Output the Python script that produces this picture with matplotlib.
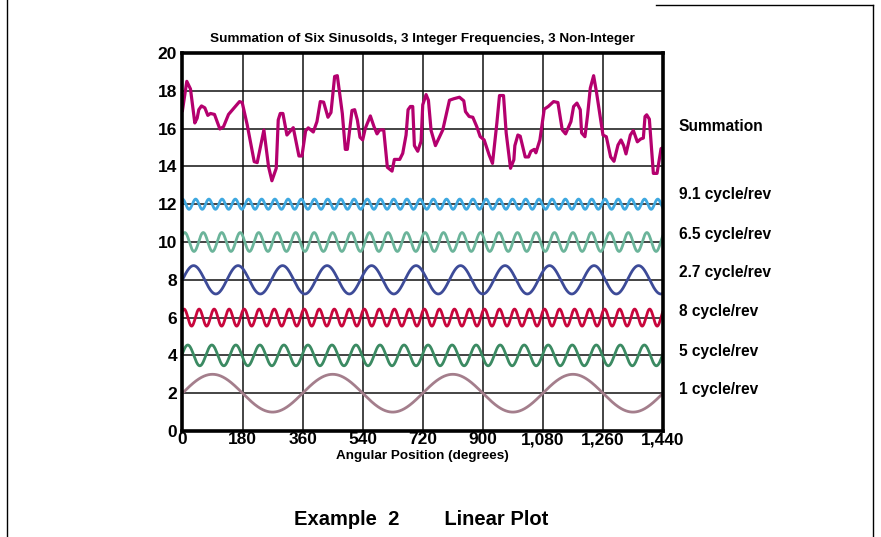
import numpy as np
import matplotlib
matplotlib.use("Agg")
import matplotlib.pyplot as plt

plt.rcParams['font.family'] = ['Liberation Sans', 'DejaVu Sans']
plt.rcParams['font.weight'] = 'bold'

# component sinusoids
labels = ['1 cycle/rev', '5 cycle/rev', '8 cycle/rev',
          '2.7 cycle/rev', '6.5 cycle/rev', '9.1 cycle/rev']
freqs = [1, 5, 8, 2.7, 6.5, 9.1]          # cycles per revolution
amps = [1.0, 0.55, 0.45, 0.75, 0.5, 0.27]
phases = [0, 10, 50, 0, 45, 90]           # degrees
offsets = [2, 4, 6, 8, 10, 12]
colors = ['#a47e8c', '#3b8a62', '#c8063c', '#3d4b98', '#6bb49a', '#3ea8e0']
label_y = [2.2, 4.2, 6.3, 8.4, 10.4, 12.5]

# summation trace
sum_deg = [0, 13, 24, 37, 44, 49, 57, 67, 76, 84, 96, 112, 123, 138, 154, 171, 179,
           194, 215, 224, 244, 258, 268, 281, 287, 293, 301, 313, 332, 349, 358,
           369, 377, 392, 403, 413, 423, 436, 445, 456, 464, 479, 488, 494, 508,
           516, 524, 532, 540, 548, 563, 574, 583, 591, 603, 614, 628, 635, 651,
           660, 670, 676, 683, 690, 695, 705, 715, 720, 730, 737, 745, 758, 780,
           800, 813, 830, 843, 848, 859, 870, 882, 892, 904, 919, 929, 942, 950,
           962, 970, 983, 993, 996, 1005, 1012, 1027, 1037, 1044, 1054, 1059,
           1071, 1084, 1096, 1112, 1125, 1138, 1148, 1164, 1172, 1182, 1192,
           1196, 1206, 1214, 1222, 1232, 1241, 1260, 1270, 1283, 1293, 1305,
           1314, 1322, 1329, 1342, 1351, 1363, 1373, 1381, 1386, 1391, 1399,
           1411, 1422, 1434, 1440]
sum_val = [16.96, 18.5, 18.1, 16.3, 16.55, 17.0, 17.2, 17.1, 16.7, 16.8, 16.75,
           15.98, 16.1, 16.75, 17.08, 17.43, 17.38, 16.2, 14.25, 14.2, 15.93,
           13.98, 13.24, 13.9, 16.46, 16.8, 16.8, 15.66, 16.05, 14.55, 14.55,
           15.88, 16.04, 15.82, 16.37, 17.43, 17.4, 16.6, 16.85, 18.76, 18.8,
           16.8, 14.9, 14.9, 16.96, 17.0, 16.46, 15.54, 15.4, 16.02, 16.67,
           16.1, 15.72, 15.93, 15.93, 13.95, 13.75, 14.37, 14.37, 14.69, 15.66,
           17.0, 17.17, 17.17, 15.1, 14.8, 15.33, 17.26, 17.8, 17.5, 15.9, 15.1,
           15.93, 17.5, 17.58, 17.66, 17.47, 16.9, 16.64, 16.6, 16.1, 15.58,
           15.4, 14.6, 14.16, 16.28, 17.75, 17.75, 15.77, 13.9, 14.35, 15.1,
           15.66, 15.6, 14.5, 14.5, 14.8, 14.9, 14.72, 15.4, 17.03, 17.17,
           17.43, 17.38, 15.93, 15.72, 16.37, 17.17, 17.35, 17.0, 15.77, 15.57,
           16.73, 18.14, 18.8, 17.88, 15.66, 15.57, 14.5, 14.27, 15.13, 15.4,
           15.1, 14.66, 15.66, 15.9, 15.3, 15.45, 15.5, 16.64, 16.73, 16.5,
           13.63, 13.63, 14.94, 15.0]

xticks = list(range(0, 1441, 180))
xtick_labels = [f"{t:,}" for t in xticks]
yticks = list(range(0, 21, 2))

fig = plt.figure(figsize=(8.81, 5.37), dpi=100)
ax = fig.add_axes([0.2071, 0.1974, 0.5455, 0.7039])

theta = np.arange(0, 1440.5, 1.0)
for f, a, p, o, c in zip(freqs, amps, phases, offsets, colors):
    ax.plot(theta, o + a * np.sin(np.radians(f * theta + p)), color=c, lw=2.0,
            solid_capstyle='round', zorder=3)

ax.plot(sum_deg, sum_val, color='#b4006e', lw=2.3, solid_joinstyle='round', zorder=3)

ax.set_xlim(0, 1440)
ax.set_ylim(0, 20)
ax.set_xticks(xticks)
ax.set_xticklabels(xtick_labels)
ax.set_yticks(yticks)
ax.tick_params(length=0, labelsize=12.5)
ax.tick_params(axis='x', pad=1)
ax.tick_params(axis='y', pad=4)
for lab in ax.get_xticklabels() + ax.get_yticklabels():
    lab.set_fontweight('bold')
ax.grid(True, color='#111111', lw=1.1, zorder=1)
for s in ax.spines.values():
    s.set_linewidth(2.6)
    s.set_zorder(4)

ax.set_title("Summation of Six Sinusolds, 3 Integer Frequencies, 3 Non-Integer",
             fontsize=9.7, fontweight='bold', pad=8)
ax.set_xlabel("Angular Position (degrees)", fontsize=9.7, fontweight='bold', labelpad=2)

# curve names on the right
ax.text(1.033, 16.1, "Summation", transform=ax.get_yaxis_transform(),
        fontsize=11.2, fontweight='bold', va='center')
for lab, ly in zip(labels, label_y):
    ax.text(1.033, ly, lab, transform=ax.get_yaxis_transform(),
            fontsize=11.2, fontweight='bold', va='center')

fig.text(0.478, 0.032, "Example  2        Linear Plot", ha='center', va='center',
         fontsize=14.5, fontweight='bold')

# page border lines
fig.add_artist(plt.Line2D([0.008, 0.008], [0, 1], color='black', lw=1))
fig.add_artist(plt.Line2D([0.991, 0.991], [0, 0.99], color='black', lw=1))
fig.add_artist(plt.Line2D([0.745, 0.991], [0.99, 0.99], color='black', lw=1))

fig.savefig("out.png", dpi=100)
